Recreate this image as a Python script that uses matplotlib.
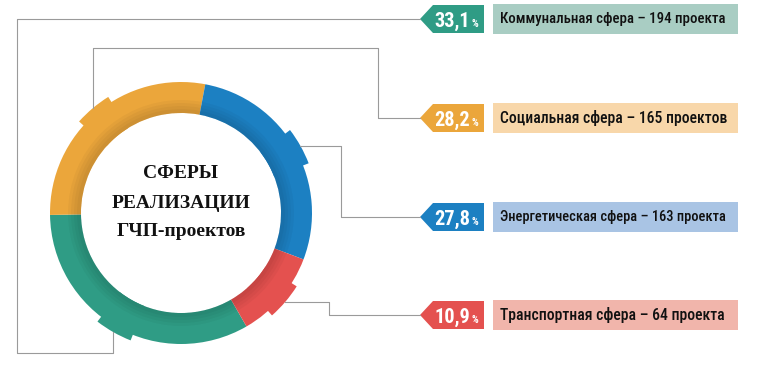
import numpy as np
import matplotlib
matplotlib.use("Agg")
import matplotlib.pyplot as plt
from matplotlib import font_manager
from matplotlib.patches import Wedge, Polygon, Rectangle

# данные
categories = ["Коммунальная сфера", "Социальная сфера", "Энергетическая сфера", "Транспортная сфера"]
shares = [33.1, 28.2, 27.8, 10.9]
projects = [194, 165, 163, 64]
word = ["проекта", "проектов", "проекта", "проекта"]

colors = ["#2f9c85", "#eba63b", "#1c80c2", "#e4514f"]
light = ["#a9cdc3", "#f8d7aa", "#a9c4e4", "#f1b5ab"]

W, H = 768, 369


# ищем узкий шрифт, если есть
def pick_narrow():
    fl = font_manager.fontManager.ttflist
    prefs = ["Liberation Sans Narrow", "Roboto Condensed", "Open Sans Condensed",
             "Noto Sans Condensed", "DejaVu Sans Condensed", "Arial Narrow"]
    names = {f.name for f in fl}
    for p in prefs:
        if p in names:
            return p, "normal"
    for f in fl:
        if f.stretch in ("condensed", "semi-condensed", "extra-condensed") and \
                f.name in ("Roboto", "Noto Sans", "Open Sans", "DejaVu Sans", "Liberation Sans"):
            return f.name, f.stretch
    for f in fl:
        if "Narrow" in f.name or "Cond" in f.name:
            return f.name, "normal"
    return "DejaVu Sans", "normal"


nfam, nstretch = pick_narrow()
narrow = dict(family=[nfam, "DejaVu Sans"], fontstretch=nstretch)

fig = plt.figure(figsize=(W / 100, H / 100), dpi=100)
ax = fig.add_axes([0, 0, 1, 1])

cx, cy = 181, H - 213
R, ring = 131, 31

wedges, _ = ax.pie(shares, colors=colors, startangle=-60, counterclock=False,
                   radius=R, center=(cx, cy),
                   wedgeprops=dict(width=ring, linewidth=0))

# выступы на кольце + точки крепления линий
anchors = []
for w, c in zip(wedges, colors):
    mid = (w.theta1 + w.theta2) / 2
    ax.add_patch(Wedge((cx, cy), R + 6, mid - 8, mid + 8, width=ring + 6,
                       facecolor=c, linewidth=0))
    a = np.deg2rad(mid)
    anchors.append((cx + (R + 6) * np.cos(a), cy + (R + 6) * np.sin(a)))

# лёгкая тень по внутреннему краю кольца
for k in range(4):
    ax.add_patch(Wedge((cx, cy), R - ring + 4 + 3 * k, 0, 360, width=4 + 3 * k,
                       facecolor="black", alpha=0.03, linewidth=0))

# строки подписей (сверху вниз)
rows = [H - 19, H - 118, H - 217, H - 315]
lc = "#9a9a9a"
tip = 420

# линии-выноски
(gx, gy), (ox, oy), (bx, by), (rx, ry) = anchors
ax.plot([gx, gx, 17, 17, tip], [gy, H - 353, H - 353, rows[0], rows[0]], color=lc, lw=0.8)
ax.plot([ox, ox, 378, 378, tip], [oy, H - 48, H - 48, rows[1], rows[1]], color=lc, lw=0.8)
ax.plot([bx, 341, 341, tip], [by, by, rows[2], rows[2]], color=lc, lw=0.8)
ax.plot([rx, 329, 329, tip], [ry, ry, rows[3], rows[3]], color=lc, lw=0.8)

fig.canvas.draw()
rend = fig.canvas.get_renderer()


def fit(t, maxw):
    bb = t.get_window_extent(rend)
    if bb.width > maxw:
        t.set_fontsize(t.get_fontsize() * maxw / bb.width)


# ярлыки
for i, yc in enumerate(rows):
    ax.add_patch(Polygon([(tip, yc), (433, yc + 14), (484, yc + 14),
                          (484, yc - 14), (433, yc - 14)],
                         closed=True, facecolor=colors[i], linewidth=0))
    ax.add_patch(Rectangle((493, yc - 15), 245, 30, facecolor=light[i], linewidth=0))
    pct = f"{shares[i]:.1f}".replace(".", ",")
    t = ax.text(470, yc - 8, pct, color="white", fontsize=17, fontweight="bold",
                ha="right", va="baseline", **narrow)
    fit(t, 36)
    ax.text(471, yc - 8, "%", color="white", fontsize=7.5, fontweight="bold",
            ha="left", va="baseline", **narrow)
    t = ax.text(500, yc, f"{categories[i]} – {projects[i]} {word[i]}", color="#111111",
                fontsize=11.5, fontweight="medium", ha="left", va="center", **narrow)
    fit(t, 226)

# центр
serif = ["Liberation Serif", "DejaVu Serif"]
for txt, y in zip(["СФЕРЫ", "РЕАЛИЗАЦИИ", "ГЧП-проектов"], [174, 203, 232]):
    ax.text(cx, H - y, txt, fontsize=14, fontweight="bold", family=serif,
            ha="center", va="center", color="#111111")

ax.set_xlim(0, W)
ax.set_ylim(0, H)
ax.set_aspect("auto")
ax.axis("off")

fig.savefig("out.png", dpi=100, facecolor="white")
